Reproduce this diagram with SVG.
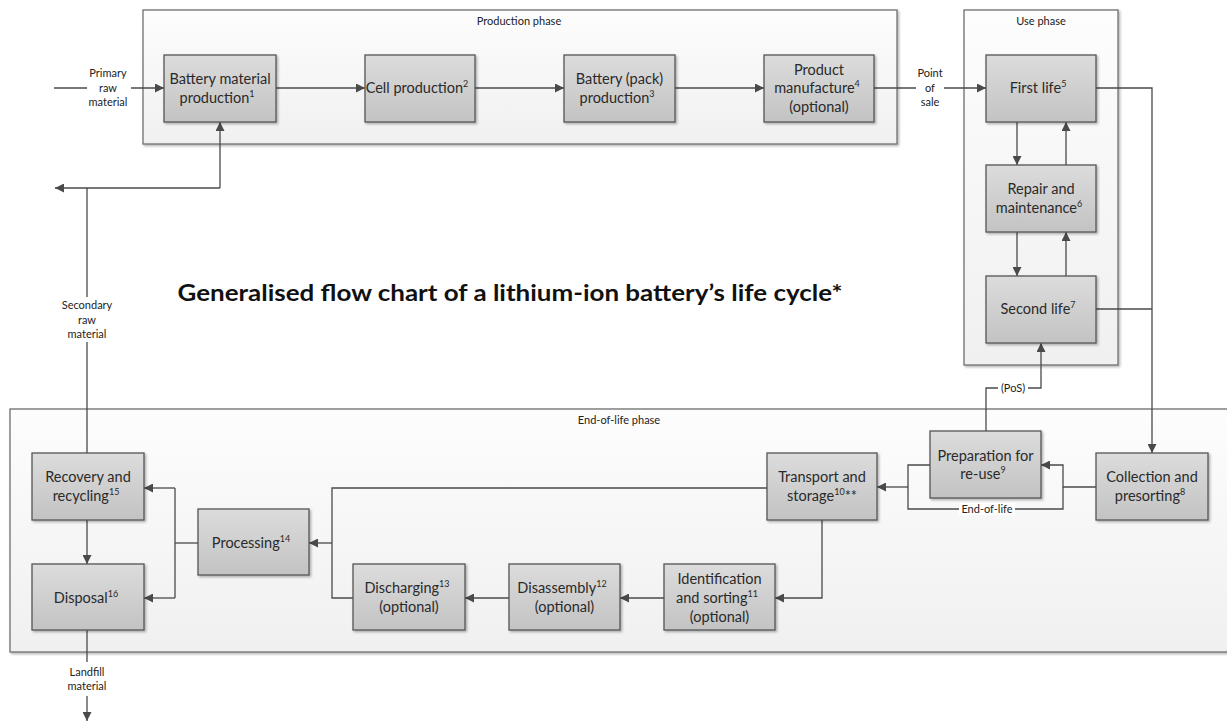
<svg xmlns="http://www.w3.org/2000/svg" width="1227" height="724" viewBox="0 0 1227 724">
<defs>
<linearGradient id="nodeFill" x1="0" y1="0" x2="0" y2="1">
<stop offset="0" stop-color="#dcdcdc"/>
<stop offset="1" stop-color="#c3c3c3"/>
</linearGradient>
<linearGradient id="phaseFill" x1="0" y1="0" x2="0" y2="1">
<stop offset="0" stop-color="#fdfdfd"/>
<stop offset="1" stop-color="#f0f0f0"/>
</linearGradient>
<filter id="shadow" x="-10%" y="-10%" width="130%" height="130%">
<feDropShadow dx="1.5" dy="1.5" stdDeviation="1" flood-color="#000" flood-opacity="0.3"/>
</filter>
<marker id="arrow" viewBox="0 0 10 10" refX="10" refY="5" markerWidth="10" markerHeight="9" markerUnits="userSpaceOnUse" orient="auto">
<path d="M0,0 L10,5 L0,10 z" fill="#4a4a4a"/>
</marker>
</defs>
<style>
.phase{fill:url(#phaseFill);stroke:#6f6f6f;stroke-width:1.3;filter:url(#shadow)}
.node rect{fill:url(#nodeFill);stroke:#555;stroke-width:1.3;filter:url(#shadow)}
.node text{font-family:Lato,"Liberation Sans",sans-serif;font-size:14.5px;fill:#2a2a2a;text-anchor:middle}
.sup{font-size:9px}
.ptitle{font-family:Lato,"Liberation Sans",sans-serif;font-size:11px;fill:#222;text-anchor:middle}
.lbl{font-family:Lato,"Liberation Sans",sans-serif;font-size:11px;fill:#222;text-anchor:middle}
.conn path,.conn line{fill:none;stroke:#4a4a4a;stroke-width:1.3}
.arr{marker-end:url(#arrow)}
.title{font-family:Lato,"Liberation Sans",sans-serif;font-size:23px;font-weight:bold;fill:#111;text-anchor:middle}
</style>
<rect width="1227" height="724" fill="#ffffff"/>

<g id="phases">
<g id="production-phase"><rect class="phase" x="143" y="10" width="754" height="134"/><text class="ptitle" x="519" y="24.5">Production phase</text></g>
<g id="use-phase"><rect class="phase" x="964" y="10" width="154" height="355"/><text class="ptitle" x="1041" y="24.5">Use phase</text></g>
<g id="eol-phase"><rect class="phase" x="10" y="409" width="1230" height="243"/><text class="ptitle" x="619" y="423.5">End-of-life phase</text></g>
</g>

<text class="title" x="510" y="301" textLength="665" lengthAdjust="spacingAndGlyphs">Generalised flow chart of a lithium-ion battery’s life cycle*</text>

<g id="connectors" class="conn">
<line x1="54" y1="88" x2="87" y2="88"/>
<line class="arr" x1="131" y1="88" x2="164" y2="88"/>
<line class="arr" x1="276" y1="88" x2="365" y2="88"/>
<line class="arr" x1="475" y1="88" x2="564" y2="88"/>
<line class="arr" x1="675" y1="88" x2="764" y2="88"/>
<line x1="874" y1="88" x2="916" y2="88"/>
<line class="arr" x1="944" y1="88" x2="986" y2="88"/>
<line class="arr" x1="1017" y1="122" x2="1017" y2="165"/>
<line class="arr" x1="1066" y1="165" x2="1066" y2="122"/>
<line class="arr" x1="1017" y1="232" x2="1017" y2="276"/>
<line class="arr" x1="1066" y1="276" x2="1066" y2="232"/>
<line x1="987" y1="199" x2="994" y2="199"/>
<line x1="1089" y1="199" x2="1096" y2="199"/>
<path class="arr" d="M1096,88 H1152 V453"/>
<line x1="1096" y1="309" x2="1152" y2="309"/>
<path class="arr" d="M986,431 V388 H1041 V343"/>
<path class="arr" d="M1096,487 H1063 V465 H1041"/>
<path d="M1063,487 V509 H908 V465 H930"/>
<line class="arr" x1="908" y1="487" x2="877" y2="487"/>
<path class="arr" d="M822,520 V598 H775"/>
<line class="arr" x1="664" y1="598" x2="620" y2="598"/>
<line class="arr" x1="509" y1="598" x2="465" y2="598"/>
<path d="M767,488 H332 V598 H353"/>
<line class="arr" x1="332" y1="543" x2="309" y2="543"/>
<line x1="198" y1="543" x2="175" y2="543"/>
<line x1="175" y1="488" x2="175" y2="598"/>
<line class="arr" x1="175" y1="488" x2="144" y2="488"/>
<line class="arr" x1="175" y1="598" x2="144" y2="598"/>
<line class="arr" x1="87" y1="520" x2="87" y2="564"/>
<line x1="87" y1="630" x2="87" y2="662"/>
<line class="arr" x1="87" y1="696" x2="87" y2="721"/>
<line x1="87" y1="453" x2="87" y2="342"/>
<line x1="87" y1="297" x2="87" y2="188"/>
<line class="arr" x1="220" y1="188" x2="55" y2="188"/>
<line class="arr" x1="220" y1="188" x2="220" y2="122"/>
</g>

<g id="connector-labels">
<text class="lbl"><tspan x="108" y="77">Primary</tspan><tspan x="108" y="92">raw</tspan><tspan x="108" y="106">material</tspan></text>
<text class="lbl"><tspan x="930" y="77">Point</tspan><tspan x="930" y="92">of</tspan><tspan x="930" y="106">sale</tspan></text>
<text class="lbl"><tspan x="87" y="309">Secondary</tspan><tspan x="87" y="324">raw</tspan><tspan x="87" y="338">material</tspan></text>
<text class="lbl"><tspan x="87" y="676">Landfill</tspan><tspan x="87" y="690">material</tspan></text>
<rect x="998" y="382" width="30" height="12" fill="#fff"/>
<text class="lbl" x="1013" y="392">(PoS)</text>
<rect x="959" y="503" width="56" height="12" fill="#fff"/>
<text class="lbl" x="987" y="513">End-of-life</text>
</g>

<g id="n1" class="node"><rect x="164" y="55" width="112" height="67"/><text><tspan x="220" y="84">Battery material</tspan><tspan x="217" y="102.5">production<tspan class="sup" dy="-6">1</tspan></tspan></text></g>
<g id="n2" class="node"><rect x="365" y="55" width="110" height="67"/><text x="417" y="93">Cell production<tspan class="sup" dy="-6">2</tspan></text></g>
<g id="n3" class="node"><rect x="564" y="55" width="111" height="67"/><text><tspan x="619.5" y="84">Battery (pack)</tspan><tspan x="617" y="102.5">production<tspan class="sup" dy="-6">3</tspan></tspan></text></g>
<g id="n4" class="node"><rect x="764" y="55" width="110" height="67"/><text><tspan x="819" y="74.5">Product</tspan><tspan x="817" y="93">manufacture<tspan class="sup" dy="-6">4</tspan></tspan><tspan x="819" y="111.5">(optional)</tspan></text></g>
<g id="n5" class="node"><rect x="986" y="55" width="110" height="67"/><text x="1038" y="93">First life<tspan class="sup" dy="-6">5</tspan></text></g>
<g id="n6" class="node"><rect x="986" y="165" width="110" height="67"/><text><tspan x="1041" y="194">Repair and</tspan><tspan x="1039" y="213">maintenance<tspan class="sup" dy="-6">6</tspan></tspan></text></g>
<g id="n7" class="node"><rect x="986" y="276" width="110" height="67"/><text x="1038" y="314">Second life<tspan class="sup" dy="-6">7</tspan></text></g>
<g id="n8" class="node"><rect x="1096" y="453" width="112" height="67"/><text><tspan x="1152" y="482">Collection and</tspan><tspan x="1150" y="501">presorting<tspan class="sup" dy="-6">8</tspan></tspan></text></g>
<g id="n9" class="node"><rect x="930" y="431" width="111" height="67"/><text><tspan x="985.5" y="461">Preparation for</tspan><tspan x="983" y="479">re-use<tspan class="sup" dy="-6">9</tspan></tspan></text></g>
<g id="n10" class="node"><rect x="767" y="453" width="110" height="67"/><text><tspan x="822" y="482">Transport and</tspan><tspan x="822" y="501">storage<tspan class="sup" dy="-6">10</tspan><tspan dy="6">**</tspan></tspan></text></g>
<g id="n11" class="node"><rect x="664" y="564" width="111" height="66"/><text><tspan x="719.5" y="584">Identification</tspan><tspan x="717" y="603">and sorting<tspan class="sup" dy="-6">11</tspan></tspan><tspan x="719.5" y="622">(optional)</tspan></text></g>
<g id="n12" class="node"><rect x="509" y="564" width="111" height="66"/><text><tspan x="562" y="593">Disassembly<tspan class="sup" dy="-6">12</tspan></tspan><tspan x="564.5" y="612">(optional)</tspan></text></g>
<g id="n13" class="node"><rect x="353" y="564" width="112" height="66"/><text><tspan x="407" y="593">Discharging<tspan class="sup" dy="-6">13</tspan></tspan><tspan x="409" y="612">(optional)</tspan></text></g>
<g id="n14" class="node"><rect x="198" y="509" width="111" height="66"/><text x="251" y="548">Processing<tspan class="sup" dy="-6">14</tspan></text></g>
<g id="n15" class="node"><rect x="32" y="453" width="112" height="67"/><text><tspan x="88" y="482">Recovery and</tspan><tspan x="86" y="501">recycling<tspan class="sup" dy="-6">15</tspan></tspan></text></g>
<g id="n16" class="node"><rect x="32" y="564" width="112" height="66"/><text x="86" y="603">Disposal<tspan class="sup" dy="-6">16</tspan></text></g>
</svg>
